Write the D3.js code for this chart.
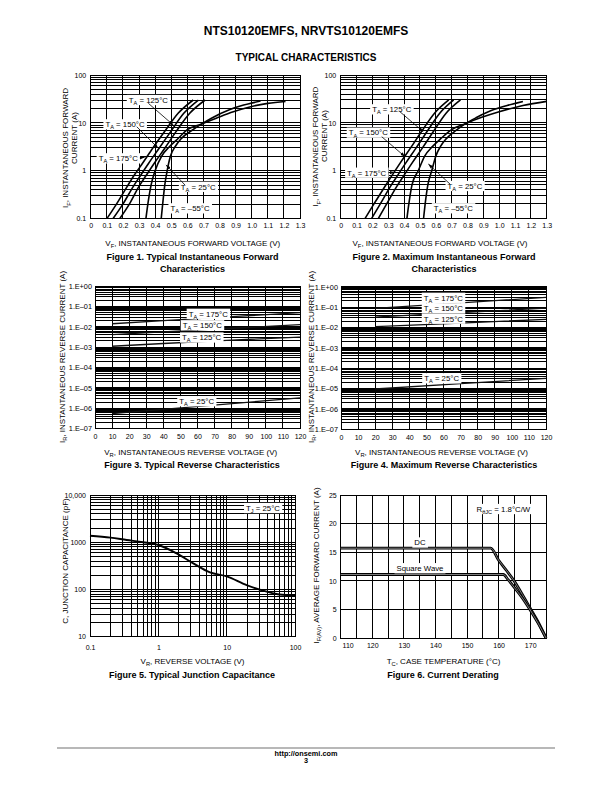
<!DOCTYPE html>
<html><head><meta charset="utf-8">
<script src="https://cdn.jsdelivr.net/npm/d3@7"></script>
<style>body{margin:0;background:#fff} svg{display:block} text{font-family:"Liberation Sans",Arial,Helvetica,sans-serif;fill:#000}</style>
</head><body><svg id="c" width="612" height="792"></svg>
<script>
// ---------------- DATA ----------------
// Fig 1/2 forward characteristics  [V, A]
const fwdVTicks = [0,0.1,0.2,0.3,0.4,0.5,0.6,0.7,0.8,0.9,1.0,1.1,1.2,1.3];
const fwdITicks = [0.1,1,10,100];
const fig1T175 = [[0.101,0.1],[0.16,0.2],[0.227,0.47],[0.27,0.8],[0.322,1.43],[0.385,2.94],[0.459,6.56],[0.543,15.8],[0.637,30]];
const fig1T150 = [[0.139,0.1],[0.2,0.2],[0.265,0.47],[0.31,0.8],[0.36,1.43],[0.425,2.94],[0.497,6.56],[0.578,15.8],[0.669,30]];
const fig1T125 = [[0.181,0.1],[0.24,0.2],[0.30,0.47],[0.345,0.8],[0.395,1.43],[0.46,2.94],[0.53,6.56],[0.615,15.8],[0.711,30]];
const fig1T25  = [[0.343,0.1],[0.355,0.2],[0.375,0.5],[0.40,1.0],[0.44,2.0],[0.49,3.2],[0.54,4.6],[0.60,7.2],[0.69,9.5],[0.78,12.5],[0.886,17],[1.0,22],[1.1,25.5],[1.21,28]];
const fig1Tm55 = [[0.438,0.1],[0.447,0.2],[0.46,0.5],[0.475,1.0],[0.495,2.0],[0.525,3.2],[0.56,4.6],[0.63,7],[0.69,9.5],[0.75,12.5],[0.865,19],[0.95,23.5],[1.055,28.5]];
const fig2T175 = [[0.154,0.1],[0.21,0.2],[0.28,0.47],[0.325,0.8],[0.375,1.43],[0.44,2.94],[0.51,6.56],[0.592,15.8],[0.682,30]];
const fig2T150 = [[0.196,0.1],[0.25,0.2],[0.315,0.47],[0.36,0.8],[0.41,1.43],[0.475,2.94],[0.545,6.56],[0.625,15.8],[0.713,30]];
const fig2T125 = [[0.238,0.1],[0.29,0.2],[0.355,0.47],[0.40,0.8],[0.45,1.43],[0.515,2.94],[0.585,6.56],[0.665,15.8],[0.756,30]];
const fig2T25  = [[0.418,0.1],[0.43,0.2],[0.45,0.5],[0.49,1.0],[0.53,2.0],[0.58,3.2],[0.63,4.6],[0.70,7.2],[0.79,9.7],[0.89,13],[1.0,17],[1.15,23],[1.3,28]];
const fig2Tm55 = [[0.523,0.1],[0.533,0.2],[0.55,0.5],[0.575,1.0],[0.6,2.0],[0.63,3.2],[0.665,4.6],[0.73,7],[0.79,9.7],[0.86,13],[0.95,18],[1.05,23],[1.15,28]];

// Fig 3/4 reverse characteristics [V, A]
const revVTicks = [0,10,20,30,40,50,60,70,80,90,100,110,120];
const revITicks = [1,1e-1,1e-2,1e-3,1e-4,1e-5,1e-6,1e-7];
const revILabels = ["1.E+00","1.E\u201301","1.E\u201302","1.E\u201303","1.E\u201304","1.E\u201305","1.E\u201306","1.E\u201307"];
const fig3T175 = [[10,0.014],[40,0.02],[80,0.031],[120,0.049]];
const fig3T150 = [[10,0.0041],[40,0.0056],[80,0.0084],[120,0.0126]];
const fig3T125 = [[10,0.0011],[40,0.0015],[80,0.0022],[120,0.0031]];
const fig3T25  = [[10,5.4e-7],[45,9.5e-7],[120,3.2e-6]];
const fig4T175 = [[20,0.085],[70,0.16],[120,0.30]];
const fig4T150 = [[20,0.032],[70,0.053],[120,0.088]];
const fig4T125 = [[20,0.0108],[70,0.0163],[120,0.0247]];
const fig4T25  = [[20,9.3e-6],[70,1.7e-5],[120,3.1e-5]];

// Fig 5 junction capacitance
const capVTicks = [0.1,1,10,100];
const capCTicks = [10,100,1000,10000];
const capCLabels = ["10","100","1000","10,000"];
const capV = [0.1,0.2,0.344,0.6,1,1.85,3.25,5.7,10,19.6,38.5,60,100];
const capC = [1370,1250,1115,1000,874,582,357,230,190,124,90,78,75];

// Fig 6 current derating
const derTTicks = [110,120,130,140,150,160,170];
const derITicks = [0,5,10,15,20,25];
const derDC = [[110,15.7],[157.5,15.7],[160,13.6],[162.5,11.8],[165,9.9],[167.5,7.6],[170,5.2],[172.5,2.8],[175,0]];
const derSQ = [[110,11.1],[161.5,11.1],[163,10.2],[165,8.8],[167.5,7.0],[170,4.9],[172.5,2.6],[175,0]];

// ---------------- DRAWING ----------------
const svg = d3.select('#c');
const defs = svg.append('defs');
defs.append('marker').attr('id','arr').attr('viewBox','0 0 10 10').attr('refX',10).attr('refY',5)
  .attr('markerWidth',6).attr('markerHeight',6).attr('orient','auto')
  .append('path').attr('d','M0,1.5L10,5L0,8.5z').attr('fill','#000');

function logMinor(lo, hi){const v=[];for(let e=lo;e<hi;e++)for(let m=1;m<10;m++)v.push(m*Math.pow(10,e));v.push(Math.pow(10,hi));return v;}
function stepVals(a,b,s){const v=[];for(let t=a;t<=b+1e-9;t+=s)v.push(+t.toFixed(6));return v;}

function grid(x,y,xv,yv){
  const [yb,yt]=y.range(), [xl,xr]=x.range();
  const g=svg.append('g').attr('stroke','#000').attr('stroke-width',1).attr('shape-rendering','crispEdges');
  g.selectAll('line.v').data(xv).join('line').attr('class','v').attr('x1',d=>x(d)).attr('x2',d=>x(d)).attr('y1',yb).attr('y2',yt);
  g.selectAll('line.h').data(yv).join('line').attr('class','h').attr('y1',d=>y(d)).attr('y2',d=>y(d)).attr('x1',xl).attr('x2',xr);
  g.append('rect').attr('x',xl).attr('y',yt).attr('width',xr-xl).attr('height',yb-yt).attr('fill','none');
}
function axes(x,y,xt,xf,xpad,yt,yf,ypad,fs,yfs){
  const ax=svg.append('g').attr('transform',`translate(0,${y.range()[0]})`)
    .call(d3.axisBottom(x).tickValues(xt).tickFormat(xf).tickSize(0).tickPadding(xpad));
  ax.select('.domain').remove(); ax.attr('font-family',null).attr('font-size',fs||7);
  const ay=svg.append('g').attr('transform',`translate(${x.range()[0]},0)`)
    .call(d3.axisLeft(y).tickValues(yt).tickFormat(yf).tickSize(0).tickPadding(ypad));
  ay.select('.domain').remove(); ay.attr('font-family',null).attr('font-size',yfs||fs||7);
  return [ax,ay];
}
function rich(t,parts,size){
  parts.forEach(([s,sub],i)=>{
    const ts=t.append('tspan').text(s);
    if(sub) ts.attr('font-size',size*0.72).attr('dy',size*0.28);
    else if(i>0&&parts[i-1][1]) ts.attr('dy',-size*0.28);
  });
}
function txt(x,y,parts,size,opt){
  opt=opt||{};
  const t=svg.append('text').attr('font-size',size).attr('text-anchor',opt.anchor||'middle');
  if(opt.rot) t.attr('transform',`translate(${x},${y}) rotate(-90)`); else t.attr('x',x).attr('y',y);
  if(opt.bold) t.attr('font-weight','bold');
  rich(t,typeof parts==='string'?[[parts]]:parts,size);
  return t;
}
function boxLabel(cx,cy,parts,size){
  const g=svg.append('g');
  const r=g.append('rect').attr('fill','#fff');
  const t=g.append('text').attr('x',cx).attr('y',cy+size*0.36).attr('text-anchor','middle').attr('font-size',size);
  rich(t,parts,size);
  const bb=t.node().getBBox();
  r.attr('x',bb.x-2).attr('y',cy-size*0.66).attr('width',bb.width+4).attr('height',size*1.32);
}
function curve(x,y,data,w,col){
  svg.append('path').datum(data).attr('fill','none').attr('stroke',col||'#000').attr('stroke-width',w)
    .attr('stroke-linejoin','round')
    .attr('d',d3.line().x(d=>x(d[0])).y(d=>y(d[1])).curve(d3.curveMonotoneX));
}
function pointer(x,y,a,b){
  svg.append('line').attr('x1',x(a[0])).attr('y1',y(a[1])).attr('x2',x(b[0])).attr('y2',y(b[1]))
    .attr('stroke','#000').attr('stroke-width',0.8).attr('marker-end','url(#arr)');
}
const TA=(s)=>[['T'],['A',1],[' = '+s+'\u00B0C']];
const fmtV=d=>d===0?'0':d.toFixed(1);

// Page titles
txt(306,35,'NTS10120EMFS, NRVTS10120EMFS',12,{bold:1});
txt(306,61,'TYPICAL CHARACTERISTICS',10,{bold:1});

// ---- Fig 1 & 2
function fwdFig(L,R,T,B,curves,labs,ptrs,yt1,yt2,xtc,cap1){
  const x=d3.scaleLinear([0,1.3],[L,R]), y=d3.scaleLog([0.1,100],[B,T]);
  grid(x,y,fwdVTicks,logMinor(-1,2));
  axes(x,y,fwdVTicks,fmtV,5,fwdITicks,d=>String(d),4.5,7);
  curves.forEach(c=>curve(x,y,c,1.6));
  labs.forEach(l=>boxLabel(x(l[1]),y(l[2]),TA(l[0]),7.8));
  ptrs.forEach(p=>pointer(x,y,p[0],p[1]));
  txt(yt1[0],yt1[1],[['I'],['F',1],[', INSTANTANEOUS FORWARD']],8,{rot:1});
  txt(yt2[0],yt2[1],'CURRENT (A)',8,{rot:1});
  txt(xtc,245.5,[['V'],['F',1],[', INSTANTANEOUS FORWARD VOLTAGE (V)']],8);
  txt(cap1[0],260,cap1[1],9,{bold:1});
  txt(cap1[0],271.5,'Characteristics',9,{bold:1});
}
fwdFig(90.7,300,75,218.5,[fig1T175,fig1T150,fig1T125,fig1T25,fig1Tm55],
  [['125',0.358,30],['150',0.213,9.3],['175',0.171,1.81],['25',0.668,0.46],['\u201355',0.617,0.163]],
  [[[0.358,25.6],[0.513,9.0]],[[0.286,8.3],[0.42,2.93]],[[0.586,0.5],[0.468,1.32]],[[0.305,1.85],[0.335,1.9]]],
  [68.3,148],[77.3,138],192.8,[192.5,'Figure 1. Typical Instantaneous Forward']);
fwdFig(340.7,546.7,75,218.3,[fig2T175,fig2T150,fig2T125,fig2T25,fig2Tm55],
  [['125',0.322,19.1],['150',0.174,6.2],['175',0.164,0.9],['25',0.784,0.475],['\u201355',0.711,0.162]],
  [[[0.374,17],[0.521,6.5]],[[0.259,5.1],[0.406,1.95]],[[0.69,0.52],[0.553,1.37]],[[0.3,0.9],[0.34,0.92]]],
  [318.3,146.7],[327.3,136],440,[444,'Figure 2. Maximum Instantaneous Forward']);

// ---- Fig 3 & 4
function revFig(L,R,T,B,curves,labs,ytx,xtc,cap){
  const x=d3.scaleLinear([0,120],[L,R]), y=d3.scaleLog([1e-7,1],[B,T]);
  grid(x,y,revVTicks,logMinor(-7,0));
  axes(x,y,revVTicks,d=>String(d),6,revITicks,(d,i)=>revILabels[i],3,7,7.3);
  curves.forEach(c=>curve(x,y,c,1.3,'#111'));
  labs.forEach(l=>boxLabel(x(l[1]),y(Math.pow(10,l[2])),TA(l[0]),7.8));
  txt(ytx,357,[['I'],['R',1],[', INSTANTANEOUS REVERSE CURRENT (A)']],8,{rot:1});
  txt(xtc,454.5,[['V'],['R',1],[', INSTANTANEOUS REVERSE VOLTAGE (V)']],8);
  txt(cap[0],468,cap[1],9,{bold:1});
}
revFig(95,300,286,428.5,[fig3T175,fig3T150,fig3T125,fig3T25],
  [['175',66.3,-1.366],['150',62.8,-1.93],['125',62.4,-2.53],['25',59.5,-5.66]],
  64.5,190.7,[192,'Figure 3. Typical Reverse Characteristics']);
revFig(341,546,286.7,429,[fig4T175,fig4T150,fig4T125,fig4T25],
  [['175',59.9,-0.546],['150',59.9,-1.062],['125',59.9,-1.574],['25',58.9,-4.506]],
  313.5,441.5,[444,'Figure 4. Maximum Reverse Characteristics']);

// ---- Fig 5
{
  const x=d3.scaleLog([0.1,100],[90,295]), y=d3.scaleLog([10,10000],[636.7,495]);
  grid(x,y,logMinor(-1,2),logMinor(1,4));
  axes(x,y,capVTicks,d=>String(d),8,capCTicks,(d,i)=>capCLabels[i],4,7);
  curve(x,y,capV.map((v,i)=>[v,capC[i]]),1.9);
  boxLabel(x(34),y(5300),[['T'],['J',1],[' = 25\u00B0C']],7.8);
  txt(67.5,561,'C, JUNCTION CAPACITANCE (pF)',8,{rot:1});
  txt(192.5,663.5,[['V'],['R',1],[', REVERSE VOLTAGE (V)']],8);
  txt(192,677.5,'Figure 5. Typical Junction Capacitance',9,{bold:1});
}
// ---- Fig 6
{
  const x=d3.scaleLinear([110,175],[340.7,546]), y=d3.scaleLinear([0,25],[638,495]);
  grid(x,y,stepVals(110,175,5),derITicks);
  const [ax]=axes(x,y,derTTicks,d=>String(d),5.5,derITicks,d=>String(d),4,7);
  ax.selectAll('.tick').filter(d=>d===110).select('text').attr('dx',7);
  [derDC,derSQ].forEach(c=>{curve(x,y,c,2.8,'#000');curve(x,y,c,0.9,'#8a8a8a');});
  boxLabel(x(135.1),y(16.7),[['DC']],7.8);
  boxLabel(x(135.1),y(12.2),[['Square Wave']],7.8);
  boxLabel(x(161.5),y(22.55),[['R'],['\u03B8JC',1],[' = 1.8\u00B0C/W']],7.8);
  txt(318.5,565.5,[['I'],['F(AV)',1],[', AVERAGE FORWARD CURRENT (A)']],8,{rot:1});
  txt(443.5,663.5,[['T'],['C',1],[', CASE TEMPERATURE (\u00B0C)']],8);
  txt(443,677.5,'Figure 6. Current Derating',9,{bold:1});
}

// footer
svg.append('line').attr('x1',57).attr('x2',555).attr('y1',748).attr('y2',748).attr('stroke','#a0a0a0').attr('stroke-width',1.5);
txt(306,755.5,'http://onsemi.com',7.3,{bold:1});
txt(306,763,'3',7.3,{bold:1});
</script></body></html>
